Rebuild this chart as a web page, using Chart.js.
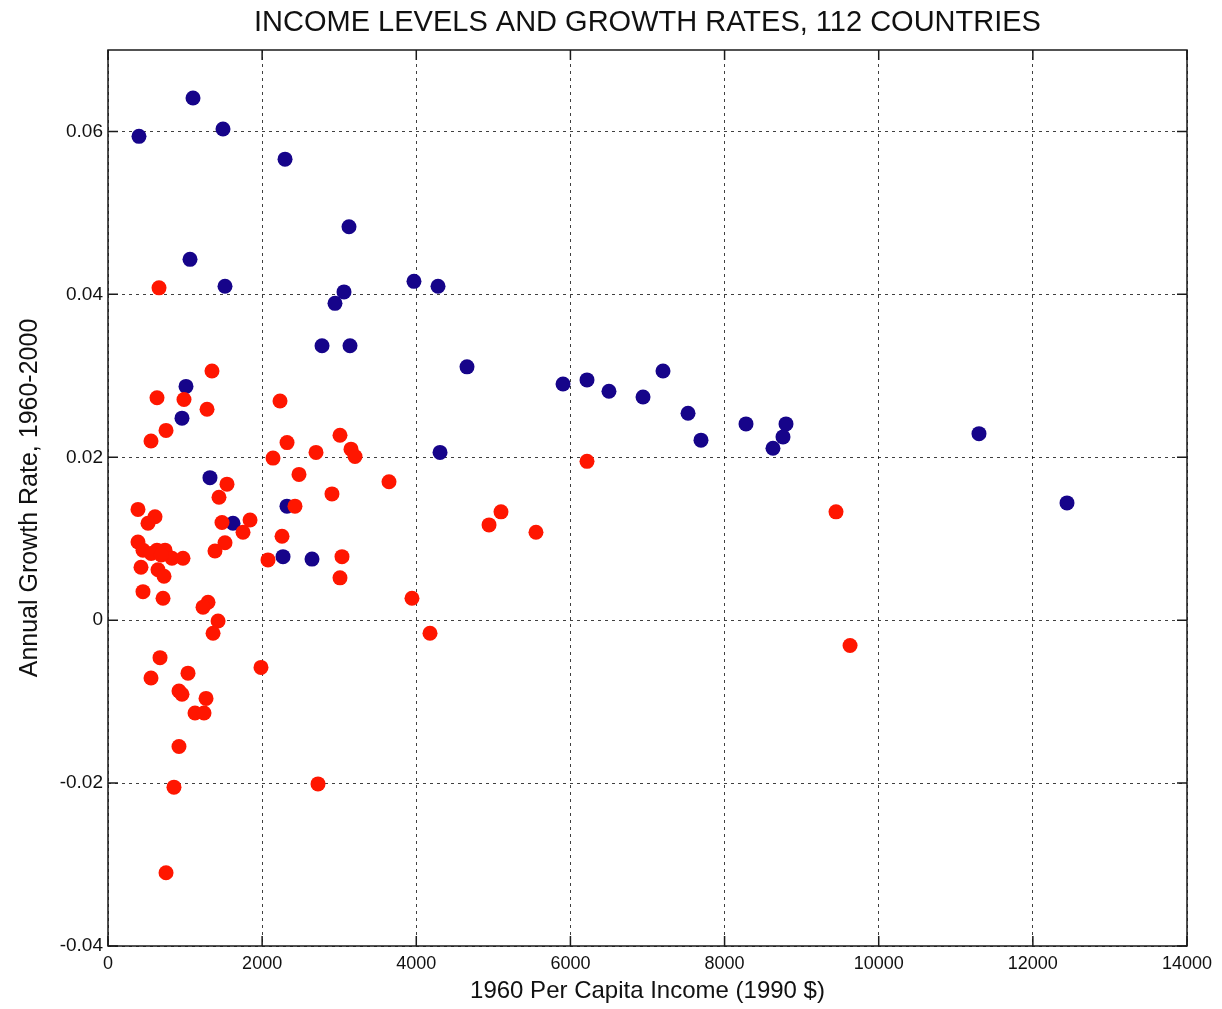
<!DOCTYPE html>
<html>
<head>
<meta charset="utf-8">
<script src="https://cdn.jsdelivr.net/npm/chart.js@4/dist/chart.umd.min.js"></script>
<style>
	html, body { margin: 0; padding: 0; background: #fff; }
	#wrap { width: 1222px; height: 1009px; }
</style>
</head>
<body>
<div id="wrap"><canvas id="myChart" width="1222" height="1009"></canvas></div>
<script>
const xTickValues = [0, 2000, 4000, 6000, 8000, 10000, 12000, 14000];
const yTickValues = [-0.04, -0.02, 0, 0.02, 0.04, 0.06];

// blue group
const blueIncome = [402, 1103, 1492, 2297, 3127, 1064, 1518, 2945, 3062, 3970, 4282,
	2777, 3140, 4658, 1012, 960, 4308, 1323, 2322, 1622, 2271, 2647,
	5904, 6215, 6500, 6942, 7201, 7526, 7694, 8278, 8797, 8758, 8628, 11301, 12443];
const blueGrowth = [0.0594, 0.0641, 0.0603, 0.0566, 0.0483, 0.0443, 0.0410, 0.0389, 0.0403, 0.0416, 0.0410,
	0.0337, 0.0337, 0.0311, 0.0287, 0.0248, 0.0206, 0.0175, 0.0140, 0.0119, 0.0078, 0.0075,
	0.0290, 0.0295, 0.0281, 0.0274, 0.0306, 0.0254, 0.0221, 0.0241, 0.0241, 0.0225, 0.0211, 0.0229, 0.0144];

// red group
const redIncome = [662, 1349, 636, 986, 1285, 753, 558, 2232, 2323, 2141, 2699, 3010, 3153, 3205,
	2478, 3646, 2906, 1544, 1440, 2426, 389, 610, 519, 1479, 1843, 1752, 2258, 1518, 1388,
	389, 454, 636, 740, 830, 973, 428, 649, 727, 2076, 3036, 3010, 454, 714, 3944, 1298, 1233,
	1428, 1363, 4178, 675, 558, 1038, 1985, 921, 960, 1272, 1129, 1246, 921, 856, 2725, 753,
	6215, 5099, 4944, 5553, 9446, 9628, 560, 690];
const redGrowth = [0.0408, 0.0306, 0.0273, 0.0271, 0.0259, 0.0233, 0.0220, 0.0269, 0.0218, 0.0199, 0.0206, 0.0227, 0.0210, 0.0201,
	0.0179, 0.0170, 0.0155, 0.0167, 0.0151, 0.0140, 0.0136, 0.0127, 0.0119, 0.0120, 0.0123, 0.0108, 0.0103, 0.0095, 0.0085,
	0.0096, 0.0086, 0.0086, 0.0086, 0.0076, 0.0076, 0.0065, 0.0062, 0.0054, 0.0074, 0.0078, 0.0052, 0.0035, 0.0027, 0.0027, 0.0022, 0.0016,
	-0.0001, -0.0016, -0.0016, -0.0046, -0.0071, -0.0065, -0.0058, -0.0087, -0.0091, -0.0096, -0.0114, -0.0114, -0.0155, -0.0205, -0.0201, -0.0310,
	0.0195, 0.0133, 0.0117, 0.0108, 0.0133, -0.0031, 0.0082, 0.0080];

const FONT = "'Liberation Sans Narrow', 'Liberation Sans', Arial, sans-serif";

function toPoints(xs, ys) {
	return xs.map((x, i) => ({x, y: ys[i]}));
}

function scatter(label, color, data) {
	return {
		type: "scatter",
		label,
		data,
		backgroundColor: color,
		borderWidth: 0,
		pointRadius: 7.5,
		pointHoverRadius: 7.5
	};
}

// box round the plot with matlab style inward ticks
const framePlugin = {
	id: "frame",
	afterDatasetsDraw(chart) {
		const {ctx, chartArea: a, scales} = chart;
		ctx.save();
		ctx.strokeStyle = "#1a1a1a";
		ctx.lineWidth = 1.5;
		ctx.strokeRect(a.left, a.top, a.right - a.left, a.bottom - a.top);
		ctx.beginPath();
		xTickValues.forEach(v => {
			const px = scales.x.getPixelForValue(v);
			ctx.moveTo(px, a.bottom); ctx.lineTo(px, a.bottom - 10);
			ctx.moveTo(px, a.top); ctx.lineTo(px, a.top + 10);
		});
		yTickValues.forEach(v => {
			const py = scales.y.getPixelForValue(v);
			ctx.moveTo(a.left, py); ctx.lineTo(a.left + 10, py);
			ctx.moveTo(a.right, py); ctx.lineTo(a.right - 10, py);
		});
		ctx.stroke();
		ctx.restore();
	}
};

const grid = {
	color: "rgba(0, 0, 0, 0.75)",
	lineWidth: 1,
	drawTicks: false
};

const datasets = [
	scatter("Red", "rgb(255, 22, 0)", toPoints(redIncome, redGrowth)),
	scatter("Blue", "rgb(22, 4, 138)", toPoints(blueIncome, blueGrowth))
];

const ctx = document.getElementById("myChart").getContext("2d");
const myChart = new Chart(ctx, {
	data: {datasets},
	options: {
		responsive: false,
		animation: false,
		layout: {padding: {left: 0, right: 35, top: 0, bottom: 0}},
		scales: {
			x: {
				type: "linear",
				position: "bottom",
				min: 0,
				max: 14000,
				afterBuildTicks: scale => { scale.ticks = xTickValues.map(value => ({value})); },
				afterFit: scale => { scale.height = 63; },
				ticks: {
					padding: 7,
					color: "#111",
					font: {family: FONT, size: 18},
					callback: v => String(v)
				},
				grid,
				border: {display: false, dash: [3, 4]},
				title: {
					display: true,
					text: "1960 Per Capita Income (1990 $)",
					color: "#111",
					font: {family: FONT, size: 24},
					padding: {top: 0, bottom: 3}
				}
			},
			x2: {
				type: "linear",
				position: "top",
				min: 0,
				max: 14000,
				afterFit: scale => { scale.height = 50; },
				ticks: {display: false},
				grid: {display: false},
				border: {display: false},
				title: {
					display: true,
					text: "INCOME LEVELS AND GROWTH RATES, 112 COUNTRIES",
					color: "#111",
					font: {family: FONT, size: 29},
					padding: {top: 6, bottom: 0}
				}
			},
			y: {
				type: "linear",
				min: -0.04,
				max: 0.07,
				afterBuildTicks: scale => { scale.ticks = yTickValues.map(value => ({value})); },
				afterFit: scale => { scale.width = 108; },
				ticks: {
					padding: 5,
					color: "#111",
					font: {family: FONT, size: 19},
					callback: v => String(Math.round(v * 100) / 100)
				},
				grid,
				border: {display: false, dash: [3, 4]},
				title: {
					display: true,
					text: "Annual Growth Rate, 1960-2000",
					color: "#111",
					font: {family: FONT, size: 25},
					padding: {top: 15, bottom: 0}
				}
			}
		},
		plugins: {
			legend: {display: false},
			tooltip: {enabled: false}
		}
	},
	plugins: [framePlugin]
});
</script>
</body>
</html>
